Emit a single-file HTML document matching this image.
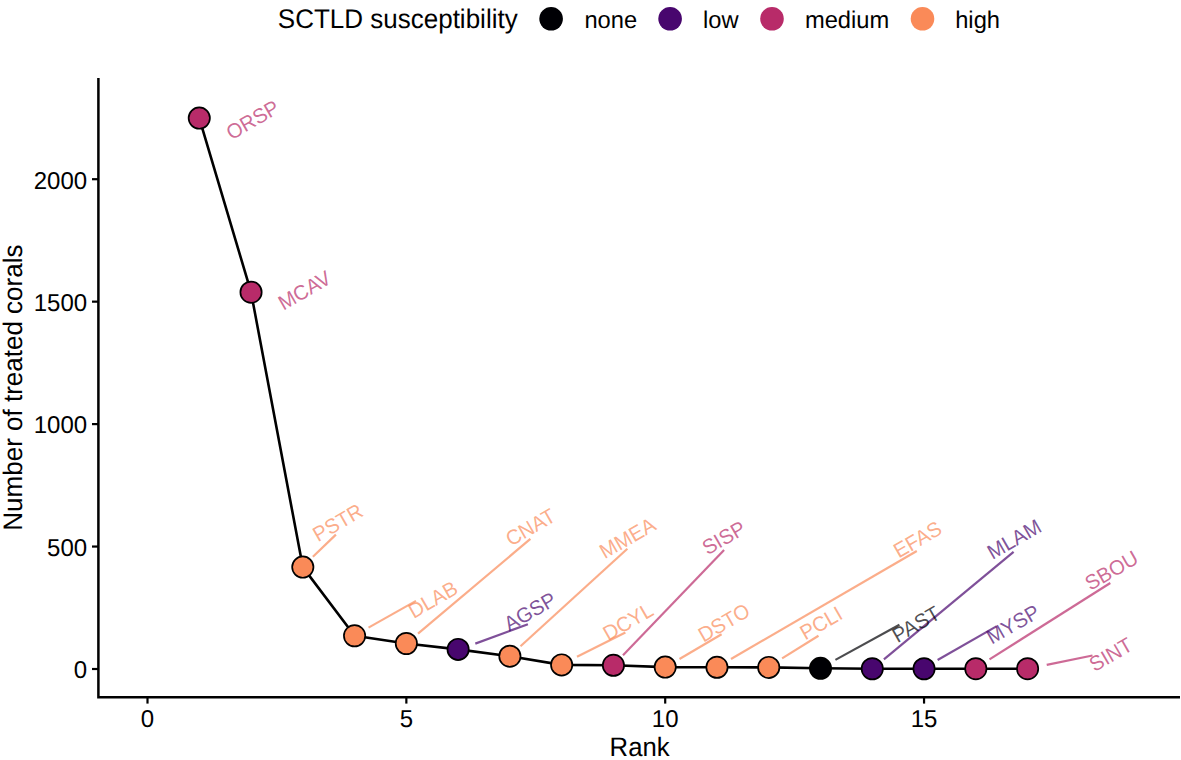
<!DOCTYPE html><html><head><meta charset="utf-8"><style>html,body{margin:0;padding:0;background:#fff;}svg{display:block;}text{font-family:"Liberation Sans",sans-serif;text-rendering:geometricPrecision;}</style></head><body>
<svg width="1181" height="760" viewBox="0 0 1181 760">
<rect width="1181" height="760" fill="#fff"/>
<text transform="translate(277.8 28.2) scale(1 1.035)" font-size="26" fill="#000">SCTLD susceptibility</text>
<circle cx="551.1" cy="18.8" r="11.8" fill="#000004"/>
<text transform="translate(584.4 27.8) scale(1 1.02)" font-size="23.7" fill="#000">none</text>
<circle cx="670.1" cy="18.8" r="11.8" fill="#48066E"/>
<text transform="translate(703.0 27.8) scale(1 1.02)" font-size="23.7" fill="#000">low</text>
<circle cx="772.0" cy="18.8" r="11.8" fill="#B82B69"/>
<text transform="translate(804.9 27.8) scale(1 1.02)" font-size="23.7" fill="#000">medium</text>
<circle cx="922.5" cy="18.8" r="11.8" fill="#FA8A58"/>
<text transform="translate(955.2 27.8) scale(1 1.02)" font-size="23.7" fill="#000">high</text>
<g stroke="#000" stroke-width="2.5" fill="none" stroke-linecap="butt">
<path d="M98.4 77.9 V697.3 H1180"/>
<path d="M92 669.0 H98.4" stroke-width="2.2"/>
<path d="M92 546.55 H98.4" stroke-width="2.2"/>
<path d="M92 424.1 H98.4" stroke-width="2.2"/>
<path d="M92 301.65 H98.4" stroke-width="2.2"/>
<path d="M92 179.2 H98.4" stroke-width="2.2"/>
<path d="M147.50 697.3 V703.6" stroke-width="2.2"/>
<path d="M406.35 697.3 V703.6" stroke-width="2.2"/>
<path d="M665.20 697.3 V703.6" stroke-width="2.2"/>
<path d="M924.05 697.3 V703.6" stroke-width="2.2"/>
</g>
<text transform="translate(87.1 678.30) scale(1 1.02)" font-size="24" text-anchor="end" fill="#000">0</text>
<text transform="translate(87.1 555.85) scale(1 1.02)" font-size="24" text-anchor="end" fill="#000">500</text>
<text transform="translate(87.1 433.40) scale(1 1.02)" font-size="24" text-anchor="end" fill="#000">1000</text>
<text transform="translate(87.1 310.95) scale(1 1.02)" font-size="24" text-anchor="end" fill="#000">1500</text>
<text transform="translate(87.1 188.50) scale(1 1.02)" font-size="24" text-anchor="end" fill="#000">2000</text>
<text transform="translate(147.50 726.6) scale(1 1.02)" font-size="24" text-anchor="middle" fill="#000">0</text>
<text transform="translate(406.35 726.6) scale(1 1.02)" font-size="24" text-anchor="middle" fill="#000">5</text>
<text transform="translate(665.20 726.6) scale(1 1.02)" font-size="24" text-anchor="middle" fill="#000">10</text>
<text transform="translate(924.05 726.6) scale(1 1.02)" font-size="24" text-anchor="middle" fill="#000">15</text>
<text transform="translate(639.6 756.4) scale(1 1.04)" font-size="25.7" text-anchor="middle" fill="#000">Rank</text>
<text transform="translate(22.1 387.6) rotate(-90) scale(1 1.03)" x="0" y="0" font-size="26" text-anchor="middle" fill="#000">Number of treated corals</text>
<path d="M199.27 118.1 L251.04 292.2 L302.81 567.1 L354.58 635.8 L406.35 643.5 L458.12 649.4 L509.89 656.2 L561.66 664.9 L613.43 665.3 L665.20 667.1 L716.97 667.3 L768.74 667.4 L820.51 668.3 L872.28 668.75 L924.05 668.75 L975.82 668.7 L1027.59 668.7" stroke="#000" stroke-width="2.6" fill="none" stroke-linejoin="round"/>
<line x1="312.9" y1="556.7" x2="335.9" y2="534.6" stroke="#FA8A58" stroke-opacity="0.7" stroke-width="2.2"/>
<line x1="368.5" y1="627.6" x2="416" y2="600.9" stroke="#FA8A58" stroke-opacity="0.7" stroke-width="2.2"/>
<line x1="418" y1="633.7" x2="530.4" y2="538.9" stroke="#FA8A58" stroke-opacity="0.7" stroke-width="2.2"/>
<line x1="475.3" y1="643.6" x2="527.9" y2="624.2" stroke="#48066E" stroke-opacity="0.7" stroke-width="2.2"/>
<line x1="520.5" y1="646.3" x2="627.4" y2="548.7" stroke="#FA8A58" stroke-opacity="0.7" stroke-width="2.2"/>
<line x1="577" y1="656.8" x2="625.4" y2="632.6" stroke="#FA8A58" stroke-opacity="0.7" stroke-width="2.2"/>
<line x1="623" y1="655.3" x2="724.1" y2="550" stroke="#B82B69" stroke-opacity="0.7" stroke-width="2.2"/>
<line x1="679.5" y1="659" x2="721.6" y2="634.2" stroke="#FA8A58" stroke-opacity="0.7" stroke-width="2.2"/>
<line x1="731" y1="659" x2="916.8" y2="551" stroke="#FA8A58" stroke-opacity="0.7" stroke-width="2.2"/>
<line x1="782.1" y1="658.4" x2="818.5" y2="635.7" stroke="#FA8A58" stroke-opacity="0.7" stroke-width="2.2"/>
<line x1="835.4" y1="659.9" x2="899.4" y2="624.7" stroke="#000004" stroke-opacity="0.7" stroke-width="2.2"/>
<line x1="883.9" y1="659.3" x2="1013.6" y2="551.9" stroke="#48066E" stroke-opacity="0.7" stroke-width="2.2"/>
<line x1="937.6" y1="660" x2="996.4" y2="626.4" stroke="#48066E" stroke-opacity="0.7" stroke-width="2.2"/>
<line x1="989.5" y1="659.4" x2="1110.3" y2="583" stroke="#B82B69" stroke-opacity="0.7" stroke-width="2.2"/>
<line x1="1046.7" y1="664.8" x2="1092.5" y2="655.5" stroke="#B82B69" stroke-opacity="0.7" stroke-width="2.2"/>
<circle cx="199.27" cy="118.1" r="10.65" fill="#B82B69" stroke="#000" stroke-width="1.7"/>
<circle cx="251.04" cy="292.2" r="10.65" fill="#B82B69" stroke="#000" stroke-width="1.7"/>
<circle cx="302.81" cy="567.1" r="10.65" fill="#FA8A58" stroke="#000" stroke-width="1.7"/>
<circle cx="354.58" cy="635.8" r="10.65" fill="#FA8A58" stroke="#000" stroke-width="1.7"/>
<circle cx="406.35" cy="643.5" r="10.65" fill="#FA8A58" stroke="#000" stroke-width="1.7"/>
<circle cx="458.12" cy="649.4" r="10.65" fill="#48066E" stroke="#000" stroke-width="1.7"/>
<circle cx="509.89" cy="656.2" r="10.65" fill="#FA8A58" stroke="#000" stroke-width="1.7"/>
<circle cx="561.66" cy="664.9" r="10.65" fill="#FA8A58" stroke="#000" stroke-width="1.7"/>
<circle cx="613.43" cy="665.3" r="10.65" fill="#B82B69" stroke="#000" stroke-width="1.7"/>
<circle cx="665.20" cy="667.1" r="10.65" fill="#FA8A58" stroke="#000" stroke-width="1.7"/>
<circle cx="716.97" cy="667.3" r="10.65" fill="#FA8A58" stroke="#000" stroke-width="1.7"/>
<circle cx="768.74" cy="667.4" r="10.65" fill="#FA8A58" stroke="#000" stroke-width="1.7"/>
<circle cx="820.51" cy="668.3" r="10.65" fill="#000004" stroke="#000" stroke-width="1.7"/>
<circle cx="872.28" cy="668.75" r="10.65" fill="#48066E" stroke="#000" stroke-width="1.7"/>
<circle cx="924.05" cy="668.75" r="10.65" fill="#48066E" stroke="#000" stroke-width="1.7"/>
<circle cx="975.82" cy="668.7" r="10.65" fill="#B82B69" stroke="#000" stroke-width="1.7"/>
<circle cx="1027.59" cy="668.7" r="10.65" fill="#B82B69" stroke="#000" stroke-width="1.7"/>
<text transform="translate(252.6 119.89999999999999) rotate(-30) scale(1 1.03)" x="0" y="6.95" font-size="20.2" text-anchor="middle" fill="#B82B69" fill-opacity="0.7">ORSP</text>
<text transform="translate(304.5 290.4) rotate(-30) scale(1 1.03)" x="0" y="6.95" font-size="20.2" text-anchor="middle" fill="#B82B69" fill-opacity="0.7">MCAV</text>
<text transform="translate(337.8 522.5) rotate(-30) scale(1 1.03)" x="0" y="6.95" font-size="20.2" text-anchor="middle" fill="#FA8A58" fill-opacity="0.7">PSTR</text>
<text transform="translate(433 599.5) rotate(-30) scale(1 1.03)" x="0" y="6.95" font-size="20.2" text-anchor="middle" fill="#FA8A58" fill-opacity="0.7">DLAB</text>
<text transform="translate(530.5 527.3) rotate(-30) scale(1 1.03)" x="0" y="6.95" font-size="20.2" text-anchor="middle" fill="#FA8A58" fill-opacity="0.7">CNAT</text>
<text transform="translate(530 611.6) rotate(-30) scale(1 1.03)" x="0" y="6.95" font-size="20.2" text-anchor="middle" fill="#48066E" fill-opacity="0.7">AGSP</text>
<text transform="translate(627.5 538) rotate(-30) scale(1 1.03)" x="0" y="6.95" font-size="20.2" text-anchor="middle" fill="#FA8A58" fill-opacity="0.7">MMEA</text>
<text transform="translate(628 621.6) rotate(-30) scale(1 1.03)" x="0" y="6.95" font-size="20.2" text-anchor="middle" fill="#FA8A58" fill-opacity="0.7">DCYL</text>
<text transform="translate(723.8 537.9) rotate(-30) scale(1 1.03)" x="0" y="6.95" font-size="20.2" text-anchor="middle" fill="#B82B69" fill-opacity="0.7">SISP</text>
<text transform="translate(724.0 622.6) rotate(-30) scale(1 1.03)" x="0" y="6.95" font-size="20.2" text-anchor="middle" fill="#FA8A58" fill-opacity="0.7">DSTO</text>
<text transform="translate(917.5999999999999 539.5) rotate(-30) scale(1 1.03)" x="0" y="6.95" font-size="20.2" text-anchor="middle" fill="#FA8A58" fill-opacity="0.7">EFAS</text>
<text transform="translate(821.0999999999999 623) rotate(-30) scale(1 1.03)" x="0" y="6.95" font-size="20.2" text-anchor="middle" fill="#FA8A58" fill-opacity="0.7">PCLI</text>
<text transform="translate(916.0 624.3) rotate(-30) scale(1 1.03)" x="0" y="6.95" font-size="20.2" text-anchor="middle" fill="#000004" fill-opacity="0.7">PAST</text>
<text transform="translate(1014.2 539.2) rotate(-30) scale(1 1.03)" x="0" y="6.95" font-size="20.2" text-anchor="middle" fill="#48066E" fill-opacity="0.7">MLAM</text>
<text transform="translate(1013.0 624.3) rotate(-30) scale(1 1.03)" x="0" y="6.95" font-size="20.2" text-anchor="middle" fill="#48066E" fill-opacity="0.7">MYSP</text>
<text transform="translate(1111.5 570.4) rotate(-30) scale(1 1.03)" x="0" y="6.95" font-size="20.2" text-anchor="middle" fill="#B82B69" fill-opacity="0.7">SBOU</text>
<text transform="translate(1110.8 654.5) rotate(-30) scale(1 1.03)" x="0" y="6.95" font-size="20.2" text-anchor="middle" fill="#B82B69" fill-opacity="0.7">SINT</text>
</svg></body></html>
